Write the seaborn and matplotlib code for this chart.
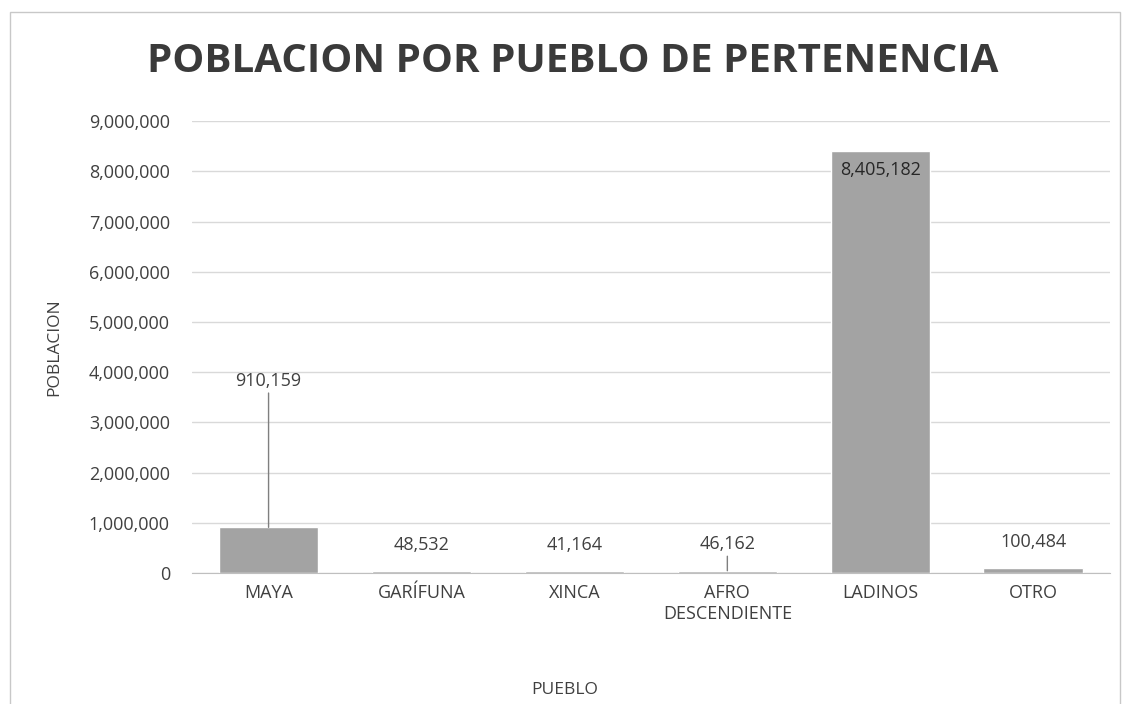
import pandas as pd
import seaborn as sns
import matplotlib.pyplot as plt
from matplotlib.patches import Rectangle

# Data
pueblos = ["MAYA", "GARÍFUNA", "XINCA", "AFRO\nDESCENDIENTE", "LADINOS", "OTRO"]
poblacion = [910159, 48532, 41164, 46162, 8405182, 100484]
etiquetas = ["910,159", "48,532", "41,164", "46,162", "8,405,182", "100,484"]

df = pd.DataFrame({"PUEBLO": pueblos, "POBLACION": poblacion})

sns.set_style("white")
plt.rcParams['font.family'] = ['Open Sans', 'DejaVu Sans']

fig = plt.figure(figsize=(11.3, 7.04), dpi=100)
ax = fig.add_axes([0.170, 0.186, 0.812, 0.642])

sns.barplot(data=df, x="PUEBLO", y="POBLACION", color="#a3a3a3",
            saturation=1, width=0.65, ax=ax)

ax.set_ylim(0, 9000000)
ax.set_yticks(range(0, 9000001, 1000000))
ax.set_yticklabels([f"{v:,}" for v in range(0, 9000001, 1000000)])
ax.yaxis.grid(True, color="#d9d9d9", linewidth=1)
ax.set_axisbelow(True)
for s in ["top", "right", "left"]:
    ax.spines[s].set_visible(False)
ax.spines["bottom"].set_color("#bfbfbf")
ax.tick_params(axis="y", labelsize=13, colors="#404040", length=0, pad=16)
ax.tick_params(axis="x", labelsize=13, colors="#404040", length=0, pad=8)

ax.set_xlabel("PUEBLO", fontsize=12.5, color="#404040")
ax.set_ylabel("POBLACION", fontsize=12.5, color="#404040")
# axis titles centred on the chart area like Excel
ax.xaxis.set_label_coords(0.406, -0.241)
ax.yaxis.set_label_coords(-0.141, 0.5)

# Data labels (Excel-style, with leader lines for moved ones)
for i, (v, lab) in enumerate(zip(poblacion, etiquetas)):
    if i == 0:
        ax.annotate(lab, xy=(i, v), xytext=(i, 3650000), ha="center", va="bottom",
                    fontsize=13, color="#404040",
                    arrowprops=dict(arrowstyle="-", color="#7f7f7f", lw=1,
                                    shrinkA=0, shrinkB=0))
    elif i == 3:
        ax.annotate(lab, xy=(i, v), xytext=(i, 400000), ha="center", va="bottom",
                    fontsize=13, color="#404040",
                    arrowprops=dict(arrowstyle="-", color="#7f7f7f", lw=1,
                                    shrinkA=0, shrinkB=0))
    elif i == 4:
        ax.text(i, v - 200000, lab, ha="center", va="top", fontsize=13, color="#262626")
    else:
        ax.text(i, v + 330000, lab, ha="center", va="bottom", fontsize=13, color="#404040")

fig.suptitle("POBLACION POR PUEBLO DE PERTENENCIA", x=0.507, y=0.94, fontsize=29,
             fontweight="bold", color="#3a3a3a")

# chart area border
fig.patches.append(Rectangle((0.009, -0.01), 0.982, 0.993, transform=fig.transFigure,
                             fill=False, edgecolor="#c8c8c8", linewidth=1))

fig.savefig("out.png", dpi=100)
